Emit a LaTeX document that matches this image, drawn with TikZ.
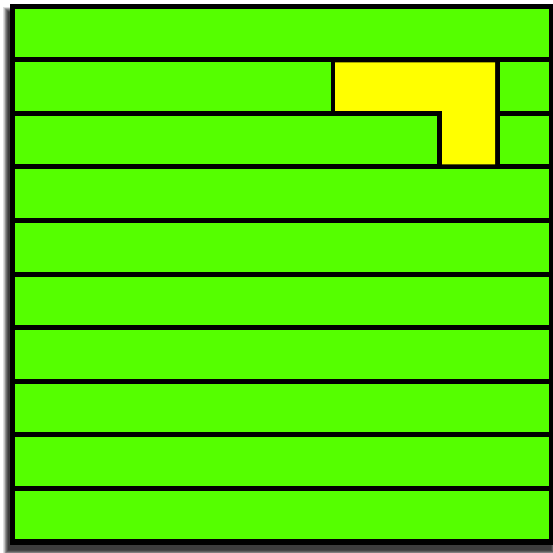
\documentclass[tikz,border=0pt]{standalone}
\definecolor{lgreen}{RGB}{85,255,0}
\definecolor{lyellow}{RGB}{255,255,0}
\tikzset{
  cell/.style={fill=lgreen},
  lshape/.style={fill=lyellow},
  frame/.style={fill=black},
  shade/.style={fill=black,opacity=0.13}
}
\begin{document}
\begin{tikzpicture}[x=1pt,y=-1pt]
\useasboundingbox (0,0) rectangle (553,553);
\fill[white] (0,0) rectangle (553,553);
% shadow
\foreach \k in {5,4,3.5,3,2.5,2,1.5,1,0.5,0}{
  \fill[shade] (8-\k,12-\k) rectangle (551+\k,550+\k);
}
% frame
\fill[frame] (10,4) rectangle (553,545);
% rows
\foreach \i in {0,3,4,5,6,7,8,9}{
  \fill[cell] (15,{9+53.5*\i}) rectangle (549,{57.5+53.5*\i});
}
% row 2
\fill[cell] (15,62.5) rectangle (330.5,111);
\fill[cell] (500,62.5) rectangle (549,111);
% row 3
\fill[cell] (15,116) rectangle (437,164.5);
\fill[cell] (500,116) rectangle (549,164.5);
% yellow L
\fill[lshape] (335,62.5) -- (495,62.5) -- (495,164.5) -- (442,164.5) -- (442,111) -- (335,111) -- cycle;
\end{tikzpicture}
\end{document}
